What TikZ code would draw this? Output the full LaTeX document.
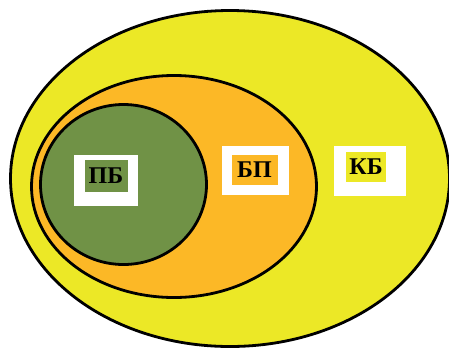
\documentclass[tikz,border=0pt]{standalone}
\usepackage{fontspec}
\setmainfont{Liberation Serif}
\definecolor{kbyellow}{RGB}{236,232,38}
\definecolor{bporange}{RGB}{252,184,38}
\definecolor{pbgreen}{RGB}{112,146,70}
\begin{document}
\begin{tikzpicture}[x=1pt,y=-1pt,
  region/.style={draw=black,line width=2.8pt},
  whitebox/.style={fill=white,draw=none},
  lbl/.style={inner sep=0pt,font=\bfseries\fontsize{24}{24}\selectfont,text=black,anchor=center}]
\useasboundingbox[fill=white] (0,0) rectangle (449,349);
% regions
\draw[region,fill=kbyellow] (230,178.5) ellipse [x radius=219.5, y radius=168];
\draw[region,fill=bporange] (174,186.5) ellipse [x radius=142.5, y radius=111];
\draw[region,fill=pbgreen] (123.5,184.5) ellipse [x radius=83, y radius=80];
% label boxes
\fill[whitebox] (74,155) rectangle (138,206);
\fill[whitebox] (222,146) rectangle (289,195);
\fill[whitebox] (334,146) rectangle (406,196);
\node[lbl,fill=pbgreen,minimum width=43pt,minimum height=32pt] (pb) at (106,176) {ПБ};
\node[lbl,fill=bporange,minimum width=46pt,minimum height=30pt] (bp) at (254.5,169.5) {БП};
\node[lbl,fill=kbyellow,minimum width=40pt,minimum height=30pt] (kb) at (366,167) {КБ};
\end{tikzpicture}
\end{document}
